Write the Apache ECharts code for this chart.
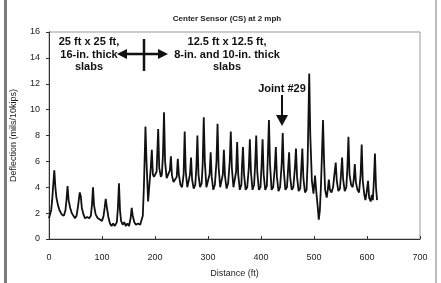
<!DOCTYPE html>
<html>
<head>
<meta charset="utf-8">
<script src="https://cdn.jsdelivr.net/npm/echarts@6/dist/echarts.min.js"></script>
<style>
  html, body { margin: 0; padding: 0; background: #fff; }
  #chart { width: 441px; height: 283px; }
</style>
</head>
<body>
<div id="chart"></div>
<script>
// distance (ft) and deflection (mils/10kips)
var distance = [
  0, 2, 4, 6, 8, 10, 12, 14, 17, 20, 24, 28, 31, 33, 35, 37, 40, 43, 46, 49,
  52, 55, 58, 60, 62, 65, 68, 72, 76, 79, 81, 83, 85, 88, 92, 96, 100, 103, 105, 107,
  109, 112, 115, 118, 121, 124, 128, 130, 132, 134, 136, 139, 142, 145, 148, 151, 154, 156, 158, 161,
  164, 168, 172, 175, 177, 179, 181, 182, 184, 187, 190, 192, 194, 196, 198, 200, 203, 206, 208, 211,
  213, 215, 217, 219, 222, 225, 228, 230, 232, 235, 238, 241, 243, 245, 248, 251, 254, 256, 258, 261,
  264, 266, 268, 270, 273, 276, 278, 280, 282, 285, 288, 290, 292, 294, 297, 300, 303, 305, 307, 310,
  313, 316, 318, 320, 323, 326, 328, 330, 332, 335, 338, 341, 343, 345, 348, 351, 353, 355, 357, 360,
  363, 364, 366, 368, 371, 374, 377, 379, 381, 384, 387, 389, 391, 393, 396, 399, 401, 403, 405, 408,
  411, 413, 415, 417, 420, 423, 426, 428, 430, 433, 436, 439, 441, 443, 446, 449, 451, 453, 455, 458,
  461, 464, 466, 468, 471, 474, 476, 478, 480, 483, 486, 488, 490, 491, 493, 496, 499, 502, 504, 507,
  509, 511, 513, 515, 517, 519, 521, 524, 526, 528, 530, 533, 536, 538, 541, 543, 546, 549, 551, 553,
  555, 558, 561, 563, 565, 567, 570, 573, 575, 577, 579, 582, 585, 588, 590, 592, 595, 597, 599, 602,
  604, 607, 609, 611, 613, 615, 617, 619
];
var deflection = [
  1.6, 1.5, 2.2, 3.0, 4.2, 5.3, 4.0, 3.2, 2.6, 2.2, 1.9, 1.8, 2.2, 3.0, 4.1, 3.0, 2.4, 2.0, 2.1, 1.6,
  1.8, 2.6, 3.6, 3.3, 2.4, 1.9, 1.6, 1.7, 1.6, 1.8, 2.6, 4.0, 2.6, 1.9, 1.6, 1.5, 1.4, 1.8, 2.4, 3.1,
  2.5, 1.7, 1.2, 1.0, 1.2, 1.0, 1.3, 2.4, 4.3, 2.2, 1.4, 1.1, 1.3, 1.0, 1.2, 1.0, 1.6, 2.4, 1.8, 1.3,
  1.1, 1.2, 1.1, 1.2, 1.8, 4.0, 7.0, 8.7, 6.0, 2.9, 4.5, 5.5, 6.9, 5.0, 4.8, 4.7, 5.2, 8.5, 5.5, 4.8,
  5.0, 6.5, 9.8, 6.0, 4.7, 4.8, 5.3, 6.4, 4.9, 4.4, 4.3, 4.8, 6.2, 5.0, 4.2, 4.0, 5.0, 8.3, 5.2, 4.0,
  3.9, 5.0, 6.3, 4.6, 3.9, 4.2, 5.5, 8.0, 5.0, 4.0, 4.3, 5.8, 9.4, 6.0, 4.0, 3.9, 5.0, 6.7, 4.8, 3.8,
  4.2, 6.0, 8.9, 5.6, 4.0, 3.9, 5.0, 6.9, 4.9, 3.9, 4.3, 6.0, 8.3, 5.5, 4.0, 3.9, 5.2, 7.5, 5.0, 3.8,
  4.2, 5.5, 7.1, 5.0, 3.8, 4.0, 5.5, 7.7, 5.2, 3.8, 4.2, 5.8, 8.0, 5.2, 3.8, 4.0, 5.6, 7.7, 5.0, 3.8,
  4.1, 6.5, 9.2, 5.8, 3.8, 4.0, 5.5, 7.1, 4.8, 3.7, 4.0, 5.8, 8.2, 5.3, 3.8, 4.0, 5.3, 6.7, 4.8, 3.8,
  4.0, 5.5, 7.0, 4.8, 3.7, 3.9, 5.4, 7.0, 4.7, 3.6, 3.8, 6.0, 10.5, 12.8, 8.0, 4.5, 3.5, 4.9, 3.8, 2.5,
  1.5, 2.2, 4.0, 6.5, 9.2, 6.0, 3.8, 3.2, 3.8, 4.6, 3.8, 3.6, 4.0, 4.8, 5.9, 4.5, 3.7, 3.9, 5.0, 6.3,
  4.6, 3.7, 4.0, 5.5, 7.9, 5.0, 4.2, 4.0, 4.6, 5.8, 4.4, 3.8, 3.6, 5.0, 7.3, 4.5, 3.4, 3.0, 3.5, 4.5,
  3.2, 2.9, 3.4, 3.0, 4.5, 6.6, 4.0, 3.0
];

var points = distance.map(function (d, i) { return [d, deflection[i]]; });

var chart = echarts.init(document.getElementById('chart'));
var boldText = { fontFamily: 'Liberation Sans', fontWeight: 'bold', fontSize: 11, fill: '#111', textAlign: 'center', lineHeight: 12.5 };

var option = {
  animation: false,
  backgroundColor: '#fff',
  title: {
    text: 'Center Sensor (CS) at 2 mph',
    left: 222, top: 10, textAlign: 'center',
    textStyle: { fontFamily: 'Liberation Sans', fontSize: 8, fontWeight: 'bold', color: '#222' }
  },
  grid: { left: 49, right: 21, top: 32, bottom: 40, show: true, borderColor: '#999', borderWidth: 1 },
  xAxis: {
    type: 'value', min: 0, max: 700, interval: 100,
    name: 'Distance (ft)', nameLocation: 'middle', nameGap: 30,
    nameTextStyle: { fontFamily: 'Liberation Sans', fontSize: 9, color: '#222' },
    axisLine: { lineStyle: { color: '#333', width: 1 } },
    axisTick: { inside: true, length: 3, lineStyle: { color: '#333' } },
    axisLabel: { fontFamily: 'Liberation Sans', fontSize: 9, color: '#222', margin: 14 },
    splitLine: { show: false }
  },
  yAxis: {
    type: 'value', min: 0, max: 16, interval: 2,
    name: 'Deflection (mils/10kips)', nameLocation: 'middle', nameGap: 31,
    nameTextStyle: { fontFamily: 'Liberation Sans', fontSize: 9, color: '#222' },
    axisLine: { show: true, lineStyle: { color: '#333', width: 1 } },
    axisTick: { show: true, length: 3, lineStyle: { color: '#333' } },
    axisLabel: { fontFamily: 'Liberation Sans', fontSize: 9, color: '#222', margin: 9 },
    splitLine: { show: false }
  },
  series: [{
    type: 'line',
    data: points,
    showSymbol: false,
    lineStyle: { color: '#111', width: 1.8 }
  }],
  graphic: [
    { type: 'rect', shape: { x: 4, y: 0, width: 3, height: 283 }, style: { fill: '#7a7a7a' } },
    { type: 'rect', shape: { x: 435, y: 0, width: 2, height: 283 }, style: { fill: '#bbb' } },
    { type: 'text', x: 89, y: 36, style: Object.assign({ text: '25 ft x 25 ft,\n16-in. thick\nslabs' }, boldText) },
    { type: 'text', x: 227, y: 36, style: Object.assign({ text: '12.5 ft x 12.5 ft,\n8-in. and 10-in. thick\nslabs' }, boldText) },
    { type: 'text', x: 282, y: 83, style: Object.assign({ text: 'Joint #29' }, boldText) },
    // double arrow with divider
    { type: 'line', shape: { x1: 124, y1: 54, x2: 161, y2: 54 }, style: { stroke: '#111', lineWidth: 2.5 } },
    { type: 'polygon', shape: { points: [[117, 54], [127, 49], [127, 59]] }, style: { fill: '#111' } },
    { type: 'polygon', shape: { points: [[168, 54], [158, 49], [158, 59]] }, style: { fill: '#111' } },
    { type: 'line', shape: { x1: 144, y1: 39, x2: 144, y2: 71 }, style: { stroke: '#111', lineWidth: 2.5 } },
    // joint arrow
    { type: 'line', shape: { x1: 282, y1: 95, x2: 282, y2: 118 }, style: { stroke: '#111', lineWidth: 2 } },
    { type: 'polygon', shape: { points: [[276, 115], [288, 115], [282, 126]] }, style: { fill: '#111' } }
  ]
};

chart.setOption(option);
window.addEventListener('resize', chart.resize);
</script>
</body>
</html>
